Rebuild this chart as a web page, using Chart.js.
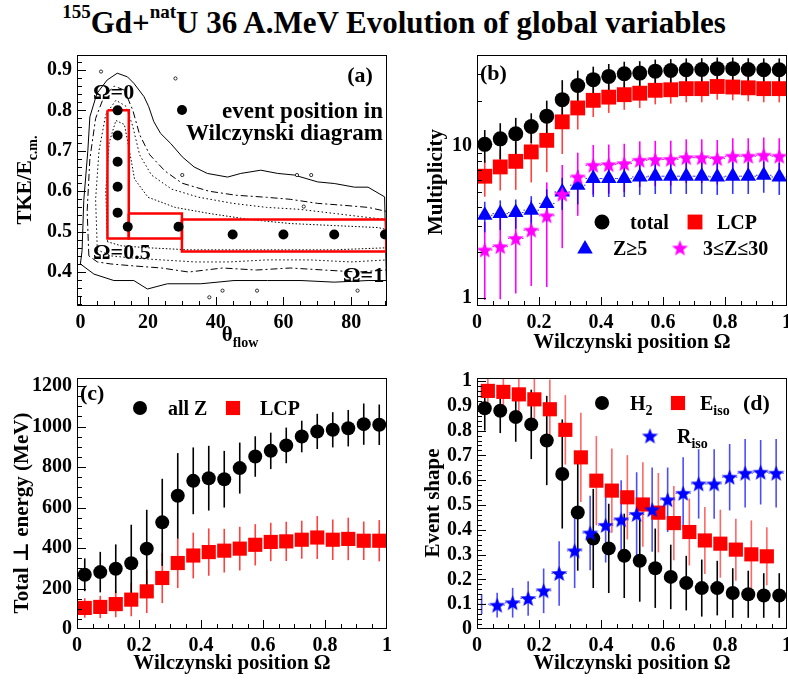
<!DOCTYPE html>
<html>
<head>
<meta charset="utf-8">
<script src="https://cdn.jsdelivr.net/npm/chart.js@4/dist/chart.umd.min.js"></script>
<style>
  html, body { margin: 0; padding: 0; background: #fff; }
  #page { position: relative; width: 788px; height: 680px; overflow: hidden; }
  #title { position: absolute; left: 0; top: 6px; width: 788px; text-align: center;
           font: bold 31px "Liberation Serif", serif; line-height: 34px; white-space: nowrap; }
  #title sup { font-size: 19px; vertical-align: 15px; line-height: 0; }
  .pane { position: absolute; }
</style>
</head>
<body>
<div id="page">
  <div id="title"><sup>155</sup>Gd+<sup>nat</sup>U 36 A.MeV Evolution of global variables</div>
  <div class="pane" style="left:0;top:45px;width:394px;height:310px"><canvas id="ca"></canvas></div>
  <div class="pane" style="left:394px;top:45px;width:394px;height:310px"><canvas id="cb"></canvas></div>
  <div class="pane" style="left:0;top:360px;width:394px;height:320px"><canvas id="cc"></canvas></div>
  <div class="pane" style="left:394px;top:360px;width:394px;height:320px"><canvas id="cd"></canvas></div>
</div>
<script>
// ---- data ----

// Wilczynski position bins (Omega)
const omega = [0.025, 0.075, 0.125, 0.175, 0.225, 0.275, 0.325, 0.375, 0.425, 0.475,
               0.525, 0.575, 0.625, 0.675, 0.725, 0.775, 0.825, 0.875, 0.925, 0.975];
const omegaEiso = [0.035, 0.085, 0.135, 0.185, 0.235, 0.285, 0.335, 0.385, 0.435, 0.485,
                   0.535, 0.585, 0.635, 0.685, 0.735, 0.785, 0.835, 0.885, 0.935];
const omegaRiso = [0.015, 0.065, 0.115, 0.165, 0.215, 0.265, 0.315, 0.365, 0.415, 0.465,
                   0.515, 0.565, 0.615, 0.665, 0.715, 0.765, 0.815, 0.865, 0.915, 0.965];

// (a) Wilczynski diagram: event positions, selection boxes, contours
const aTheta = [11, 11, 11, 11, 11, 14, 29, 45, 60, 75, 90];
const aTke   = [0.8, 0.738, 0.673, 0.611, 0.547, 0.512, 0.512, 0.493, 0.493, 0.493, 0.493];
const box1Theta = [8, 14.3, 14.3, 8, 8];
const box1Tke   = [0.8, 0.8, 0.483, 0.483, 0.8];
const box2Theta = [14.3, 30, 30, 14.3, 14.3];
const box2Tke   = [0.545, 0.545, 0.483, 0.483, 0.545];
const box3Theta = [30, 90.4, 90.4, 30, 30];
const box3Tke   = [0.53, 0.53, 0.451, 0.451, 0.53];
const cOuterTheta = [0, 0.5, 1, 2.2, 2.8, 4.9, 7.9, 10.9, 13.9, 15.8, 18.8, 20.2, 21.7, 23.7, 26.7, 30.1, 33.6, 37.5,
                     43.5, 47.4, 53.3, 58.3, 63.2, 70.1, 75.1, 81, 85, 89.9, 90.4, 85, 75, 65.2, 55.3, 45.4, 35.6,
                     25.7, 19.8, 15.8, 9.9, 4, 0];
const cOuterTke   = [0.42, 0.453, 0.577, 0.70, 0.784, 0.842, 0.875, 0.892, 0.883, 0.867, 0.834, 0.809, 0.772, 0.743,
                     0.718, 0.685, 0.66, 0.644, 0.635, 0.644, 0.652, 0.644, 0.64, 0.623, 0.619, 0.61, 0.61, 0.586,
                     0.379, 0.379, 0.375, 0.379, 0.379, 0.379, 0.371, 0.371, 0.358, 0.379, 0.379, 0.395, 0.42];
const cDashTheta = [2.5, 2, 2.8, 4.5, 7, 10, 13, 15.5, 17.5, 20.5, 25, 30, 38, 46, 55, 62, 70, 78, 85, 90.5,
                    90.5, 82, 72, 62, 52, 42, 32, 24, 16, 9, 5, 2.5];
const cDashTke   = [0.44, 0.55, 0.68, 0.78, 0.835, 0.86, 0.85, 0.8, 0.74, 0.69, 0.65, 0.62, 0.6, 0.59, 0.585, 0.58,
                    0.57, 0.565, 0.56, 0.55, 0.405, 0.4, 0.405, 0.41, 0.405, 0.41, 0.4, 0.41, 0.415, 0.42, 0.425, 0.44];
const cDot1Theta = [5, 4.5, 5.5, 7.5, 10.5, 13.5, 15.5, 17.5, 21, 27, 35, 45, 55, 65, 75, 85, 90.5,
                    90.5, 80, 68, 55, 44, 34, 24, 15, 9, 5];
const cDot1Tke   = [0.455, 0.58, 0.7, 0.79, 0.825, 0.81, 0.76, 0.69, 0.64, 0.605, 0.585, 0.57, 0.56, 0.555, 0.545,
                    0.535, 0.53, 0.43, 0.425, 0.43, 0.43, 0.425, 0.425, 0.43, 0.435, 0.44, 0.455];
const cDot2Theta = [8, 7.5, 8.5, 10.5, 13, 14.5, 16, 20, 28, 38, 50, 62, 75, 88, 90.5,
                    90.5, 75, 60, 45, 32, 20, 12, 8];
const cDot2Tke   = [0.475, 0.6, 0.72, 0.775, 0.765, 0.7, 0.63, 0.585, 0.56, 0.545, 0.53, 0.52, 0.515, 0.51, 0.505,
                    0.46, 0.455, 0.455, 0.455, 0.455, 0.46, 0.465, 0.475];
const strayTheta = [6.1, 28.1, 30.1, 64, 68.2, 42, 52.2, 81.9, 38.1, 66];
const strayTke   = [0.896, 0.879, 0.64, 0.64, 0.64, 0.354, 0.354, 0.354, 0.3375, 0.562];

// (b) multiplicities
const bTotal    = [10.3, 11.2, 12.1, 13.5, 15.8, 20.3, 25.2, 27.5, 28.9, 30.1, 30.4, 31.3, 31.6, 32.0, 32.1, 32.5, 32.5, 32.1, 32.0, 32.0];
const bTotalErr = [2.5, 3, 3.3, 3, 4.2, 7, 6.4, 6, 6, 6, 6, 6, 6, 6, 6, 6, 6, 6, 6, 6];
const bLcp      = [6.35, 7.31, 7.96, 9.18, 10.95, 14.5, 17.9, 20.1, 21.1, 21.9, 22.4, 23.4, 23.6, 24.0, 24.0, 24.8, 24.6, 24.3, 24.0, 24.0];
const bLcpErr   = [1.7, 2.2, 2.8, 3.4, 4.2, 5.6, 5, 4.5, 4.5, 4.5, 4.5, 4.5, 4.5, 4.5, 4.5, 4.5, 4.5, 4.5, 4.5, 4.5];
const bZ5       = [3.51, 3.60, 3.66, 3.79, 4.20, 5.0, 5.54, 6.13, 6.13, 6.13, 6.28, 6.35, 6.35, 6.35, 6.35, 6.28, 6.35, 6.35, 6.44, 6.28];
const bZ5Err    = [0.8, 0.8, 0.8, 0.9, 1.0, 1.2, 1.4, 1.5, 1.5, 1.5, 1.5, 1.5, 1.5, 1.5, 1.5, 1.5, 1.5, 1.5, 1.5, 1.5];
const bImf      = [2.07, 2.18, 2.47, 2.8, 3.48, 4.83, 6.28, 7.5, 7.57, 7.69, 8.09, 8.17, 8.2, 8.42, 8.42, 8.3, 8.6, 8.6, 8.73, 8.6];
const bImfErr   = [1.1, 1.2, 1.4, 1.6, 2.3, 2.7, 2.8, 2.7, 2.7, 2.7, 2.7, 2.7, 2.7, 2.7, 2.7, 2.7, 2.7, 2.7, 2.7, 2.7];

// (c) total transverse energy (MeV)
const cAllZ     = [268, 281, 298, 325, 397, 527, 658, 732, 745, 740, 795, 852, 880, 907, 951, 976, 984, 992, 1012, 1009];
const cAllZErr  = [81, 100, 120, 190, 192, 215, 211, 165, 160, 140, 126, 100, 90, 88, 78, 87, 87, 90, 102, 100];
const cLcp      = [104, 109, 123, 145, 186, 252, 326, 363, 380, 387, 397, 416, 430, 433, 441, 452, 441, 445, 436, 436];
const cLcpErr   = [48, 55, 65, 82, 107, 124, 124, 113, 117, 108, 108, 102, 95, 97, 94, 106, 100, 105, 95, 102];

// (d) event shape
const dH2       = [0.89, 0.88, 0.855, 0.825, 0.76, 0.625, 0.47, 0.365, 0.325, 0.295, 0.275, 0.245, 0.21, 0.185, 0.165, 0.165, 0.145, 0.14, 0.135, 0.135];
const dH2Err    = [0.09, 0.09, 0.1, 0.14, 0.18, 0.22, 0.235, 0.2, 0.18, 0.17, 0.165, 0.16, 0.13, 0.11, 0.115, 0.11, 0.1, 0.095, 0.09, 0.09];
const dEiso     = [0.96, 0.956, 0.946, 0.926, 0.886, 0.803, 0.692, 0.598, 0.558, 0.531, 0.502, 0.469, 0.427, 0.391, 0.357, 0.344, 0.32, 0.301, 0.293];
const dEisoErr  = [0.05, 0.06, 0.07, 0.09, 0.12, 0.14, 0.18, 0.18, 0.17, 0.17, 0.17, 0.16, 0.15, 0.135, 0.135, 0.137, 0.125, 0.137, 0.117];
const dRiso     = [0.1, 0.096, 0.106, 0.123, 0.154, 0.224, 0.315, 0.387, 0.418, 0.44, 0.462, 0.481, 0.521, 0.547, 0.585, 0.585, 0.612, 0.628, 0.632, 0.628];
const dRisoErr  = [0.04, 0.05, 0.06, 0.07, 0.09, 0.13, 0.15, 0.15, 0.15, 0.16, 0.17, 0.17, 0.13, 0.145, 0.14, 0.14, 0.134, 0.138, 0.13, 0.138];

// tick labels
const aXTicks = [0, 20, 40, 60, 80];
const aYTicks = [0.4, 0.5, 0.6, 0.7, 0.8, 0.9];
const omegaTicks = [0, 0.2, 0.4, 0.6, 0.8, 1];
const bYTicks = [1, 10];
const cYTicks = [0, 200, 400, 600, 800, 1000, 1200];
const dYTicks = [0, 0.1, 0.2, 0.3, 0.4, 0.5, 0.6, 0.7, 0.8, 0.9, 1];

// ---- drawing helpers ----
const SERIF = '"Liberation Serif", "DejaVu Serif", serif';
const RED = '#ff0000', BLUE = '#0000ff', MAGENTA = '#ff00ff';
const TITLE = 21;

function pts(xs, ys) { return xs.map((x, i) => ({ x, y: ys[i] })); }

function steps(lo, hi, step) {
  const out = [];
  for (let v = Math.ceil(lo / step - 1e-9) * step; v <= hi + 1e-9; v += step) out.push(+v.toFixed(6));
  return out;
}

function starImage(color, size) {
  const c = document.createElement('canvas');
  c.width = c.height = size;
  const g = c.getContext('2d');
  const R = size / 2, r = R * 0.42;
  g.beginPath();
  for (let i = 0; i < 10; i++) {
    const a = -Math.PI / 2 + i * Math.PI / 5;
    const rr = i % 2 ? r : R;
    g.lineTo(R + rr * Math.cos(a), R * 1.08 + rr * Math.sin(a));
  }
  g.closePath();
  g.fillStyle = color;
  g.fill();
  return c;
}
const starMagenta = starImage(MAGENTA, 17);
const starBlue = starImage(BLUE, 17);

// text with optional subscripts; (x, y) is the centre of the line
function drawRich(ctx, segs, x, y, size, align, rot) {
  ctx.save();
  ctx.translate(x, y);
  if (rot) ctx.rotate(rot);
  let total = 0;
  const parts = segs.map(s => {
    const fs = s.sub ? Math.round(size * 0.68) : size;
    ctx.font = `bold ${fs}px ${SERIF}`;
    const w = ctx.measureText(s.t).width;
    total += w;
    return { s, fs, w };
  });
  let cx = align === 'center' ? -total / 2 : align === 'right' ? -total : 0;
  ctx.fillStyle = '#000';
  ctx.textAlign = 'left';
  ctx.textBaseline = 'alphabetic';
  for (const p of parts) {
    ctx.font = `bold ${p.fs}px ${SERIF}`;
    ctx.fillText(p.s.t, cx, size * 0.33 + (p.s.sub ? size * 0.28 : 0));
    cx += p.w;
  }
  ctx.restore();
}

function drawMark(ctx, m) {
  if (m.mark === 'star') {
    const img = m.color === BLUE ? starBlue : starMagenta;
    ctx.drawImage(img, m.x - img.width / 2, m.y - img.height / 2);
    return;
  }
  ctx.save();
  ctx.fillStyle = m.color;
  ctx.strokeStyle = m.color;
  Chart.helpers.drawPoint(ctx, { pointStyle: m.mark, radius: m.r, rotation: 0, borderWidth: 0 }, m.x, m.y);
  ctx.restore();
}

// ROOT-like frame, inward ticks, error bars and annotations
const framePlugin = {
  id: 'frame',
  beforeDatasetsDraw(chart, args, opts) {
    const { ctx, chartArea: ca } = chart;
    const xs = chart.scales.x, ys = chart.scales.y;
    ctx.save();
    ctx.beginPath();
    ctx.rect(ca.left, ca.top, ca.right - ca.left, ca.bottom - ca.top);
    ctx.clip();
    chart.data.datasets.forEach(ds => {
      if (!ds.errY) return;
      ds.data.forEach((p, i) => {
        const px = xs.getPixelForValue(p.x);
        const e = ds.errY[i];
        let lo = p.y - e;
        if (ys.type === 'logarithmic' && lo <= 0) lo = ys.min;
        ctx.strokeStyle = ds.errColor;
        ctx.lineWidth = 1.6;
        ctx.setLineDash([]);
        ctx.beginPath();
        ctx.moveTo(px, ys.getPixelForValue(lo));
        ctx.lineTo(px, ys.getPixelForValue(p.y + e));
        ctx.stroke();
        if (ds.errX) {
          const py = ys.getPixelForValue(p.y);
          ctx.lineWidth = 1;
          ctx.setLineDash(ds.errXDash || []);
          ctx.beginPath();
          ctx.moveTo(xs.getPixelForValue(p.x - ds.errX), py);
          ctx.lineTo(xs.getPixelForValue(p.x + ds.errX), py);
          ctx.stroke();
        }
      });
    });
    ctx.restore();
  },
  afterDraw(chart, args, opts) {
    const { ctx, chartArea: ca } = chart;
    const xs = chart.scales.x, ys = chart.scales.y;
    ctx.save();
    ctx.strokeStyle = '#000';
    ctx.lineWidth = 1;
    ctx.setLineDash([]);
    ctx.strokeRect(Math.round(ca.left) + 0.5, Math.round(ca.top) + 0.5,
                   Math.round(ca.right - ca.left) - 1, Math.round(ca.bottom - ca.top) - 1);
    ctx.beginPath();
    const tick = (list, len, horiz) => list.forEach(v => {
      if (horiz) {
        const p = Math.round(xs.getPixelForValue(v)) + 0.5;
        if (p < ca.left || p > ca.right) return;
        ctx.moveTo(p, ca.bottom); ctx.lineTo(p, ca.bottom - len);
      } else {
        const p = Math.round(ys.getPixelForValue(v)) + 0.5;
        if (p < ca.top || p > ca.bottom) return;
        ctx.moveTo(ca.left, p); ctx.lineTo(ca.left + len, p);
      }
    });
    tick(opts.xMajor, 9, true);
    tick(opts.xMinor, 5, true);
    tick(opts.yMajor, 9, false);
    tick(opts.yMinor, 5, false);
    ctx.stroke();
    ctx.restore();
    (opts.marks || []).forEach(m => drawMark(ctx, m));
    (opts.notes || []).forEach(n => drawRich(ctx, n.segs, n.x, n.y, n.size, n.align || 'left', n.rot || 0));
  }
};

function axis(a, dir) {
  return {
    type: a.type || 'linear',
    min: a.min, max: a.max,
    grid: { display: false, drawTicks: false },
    border: { display: false },
    title: { display: false },
    ticks: {
      color: '#000', padding: a.pad, autoSkip: false, maxRotation: 0,
      font: { family: SERIF, weight: 'bold', size: 20 },
      callback: v => String(v)
    },
    afterBuildTicks: s => { s.ticks = a.ticks.map(v => ({ value: v })); },
    afterFit: s => {
      if (dir === 'x') s.height = a.size; else s.width = a.size;
      s.paddingLeft = s.paddingRight = s.paddingTop = s.paddingBottom = 0;
    }
  };
}

function makeChart(id, cfg) {
  return new Chart(document.getElementById(id), {
    type: 'scatter',
    data: { datasets: cfg.datasets },
    options: {
      responsive: true, maintainAspectRatio: false, animation: false, devicePixelRatio: 1,
      events: [],
      layout: { padding: cfg.pad, autoPadding: false },
      plugins: { legend: { display: false }, tooltip: { enabled: false }, frame: cfg.frame },
      scales: { x: axis(cfg.x, 'x'), y: axis(cfg.y, 'y') }
    },
    plugins: [framePlugin]
  });
}

function lineSet(xs, ys, color, width, dash) {
  return { data: pts(xs, ys), showLine: true, pointRadius: 0, borderColor: color,
           borderWidth: width, borderDash: dash || [], fill: false, tension: 0 };
}
function markSet(xs, ys, style, color, radius, err, errColor, extra) {
  return Object.assign({ data: pts(xs, ys), pointStyle: style, pointRadius: radius,
           backgroundColor: color, borderColor: color, borderWidth: 0,
           errY: err, errColor: errColor }, extra || {});
}

// ---- (a) ----
makeChart('ca', {
  pad: { top: 10, right: 7, left: 0, bottom: 0 },
  x: { min: -1, max: 90.6, ticks: aXTicks, size: 49, pad: 5 },
  y: { min: 0.316, max: 0.937, ticks: aYTicks, size: 77, pad: 5 },
  datasets: [
    markSet(aTheta, aTke, 'circle', '#000', 5),
    lineSet(box1Theta, box1Tke, RED, 2.5),
    lineSet(box2Theta, box2Tke, RED, 2.5),
    lineSet(box3Theta, box3Tke, RED, 2.5),
    Object.assign(markSet(strayTheta, strayTke, 'circle', '#fff', 1.6),
                  { borderColor: '#000', borderWidth: 0.8 }),
    lineSet(cDot2Theta, cDot2Tke, '#000', 1, [1.5, 2]),
    lineSet(cDot1Theta, cDot1Tke, '#000', 1, [1.5, 2.5]),
    lineSet(cDashTheta, cDashTke, '#000', 1, [7, 3, 2, 3]),
    lineSet(cOuterTheta, cOuterTke, '#000', 1)
  ],
  frame: {
    xMajor: aXTicks, xMinor: steps(0, 90, 5),
    yMajor: aYTicks, yMinor: steps(0.32, 0.93, 0.02),
    marks: [{ mark: 'circle', color: '#000', r: 5, x: 182, y: 65 }],
    notes: [
      { segs: [{ t: 'TKE/E' }, { t: 'c.m.', sub: true }], x: 24, y: 135, size: TITLE, align: 'center', rot: -Math.PI / 2 },
      { segs: [{ t: 'θ' }, { t: 'flow', sub: true }], x: 240, y: 289, size: TITLE, align: 'center' },
      { segs: [{ t: '(a)' }], x: 360, y: 30, size: 22, align: 'center' },
      { segs: [{ t: 'Ω=0' }], x: 93, y: 47, size: 22 },
      { segs: [{ t: 'Ω=0.5' }], x: 93, y: 207, size: 22 },
      { segs: [{ t: 'Ω=1' }], x: 343, y: 230, size: 22 },
      { segs: [{ t: 'event position in' }], x: 383, y: 65, size: 23, align: 'right' },
      { segs: [{ t: 'Wilczynski diagram' }], x: 383, y: 87, size: 23, align: 'right' }
    ]
  }
});

// ---- (b) ----
makeChart('cb', {
  pad: { top: 10, right: 1, left: 0, bottom: 0 },
  x: { min: 0, max: 1, ticks: omegaTicks, size: 49, pad: 5 },
  y: { type: 'logarithmic', min: 0.885, max: 40, ticks: bYTicks, size: 83, pad: 5 },
  datasets: [
    markSet(omega, bImf, starMagenta, MAGENTA, 8, bImfErr, MAGENTA, { errX: 0.025, errXDash: [1.5, 2] }),
    markSet(omega, bZ5, 'triangle', BLUE, 9, bZ5Err, 'rgba(0,0,255,0.8)', { errX: 0.025, errXDash: [1.5, 2] }),
    markSet(omega, bLcp, 'rect', RED, 10.5, bLcpErr, 'rgba(255,0,0,0.75)'),
    markSet(omega, bTotal, 'circle', '#000', 7.5, bTotalErr, '#000')
  ],
  frame: {
    xMajor: omegaTicks, xMinor: steps(0, 1, 0.05),
    yMajor: bYTicks, yMinor: [2, 3, 4, 5, 6, 7, 8, 9, 20, 30],
    marks: [
      { mark: 'circle', color: '#000', r: 7.5, x: 208, y: 177 },
      { mark: 'rect', color: RED, r: 10.5, x: 301, y: 177 },
      { mark: 'triangle', color: BLUE, r: 9, x: 191, y: 204 },
      { mark: 'star', color: MAGENTA, x: 286, y: 203 }
    ],
    notes: [
      { segs: [{ t: 'Multiplicity' }], x: 41, y: 137, size: TITLE, align: 'center', rot: -Math.PI / 2 },
      { segs: [{ t: 'Wilczynski position Ω' }], x: 238, y: 296, size: TITLE, align: 'center' },
      { segs: [{ t: '(b)' }], x: 86, y: 28, size: 22 },
      { segs: [{ t: 'total' }], x: 236, y: 177, size: 20 },
      { segs: [{ t: 'LCP' }], x: 323, y: 177, size: 20 },
      { segs: [{ t: 'Z≥5' }], x: 219, y: 203, size: 20 },
      { segs: [{ t: '3≤Z≤30' }], x: 309, y: 203, size: 20 }
    ]
  }
});

// ---- (c) ----
makeChart('cc', {
  pad: { top: 18, right: 7, left: 0, bottom: 0 },
  x: { min: 0, max: 1, ticks: omegaTicks, size: 51, pad: 5 },
  y: { min: 0, max: 1240, ticks: cYTicks, size: 77, pad: 5 },
  datasets: [
    markSet(omega, cLcp, 'rect', RED, 10, cLcpErr, 'rgba(255,0,0,0.75)'),
    markSet(omega, cAllZ, 'circle', '#000', 7, cAllZErr, '#000')
  ],
  frame: {
    xMajor: omegaTicks, xMinor: steps(0, 1, 0.05),
    yMajor: cYTicks, yMinor: steps(0, 1240, 50),
    marks: [
      { mark: 'circle', color: '#000', r: 7, x: 140, y: 48 },
      { mark: 'rect', color: RED, r: 10, x: 233, y: 48 }
    ],
    notes: [
      { segs: [{ t: 'Total ⊥ energy (MeV)' }], x: 21, y: 153, size: TITLE, align: 'center', rot: -Math.PI / 2 },
      { segs: [{ t: 'Wilczynski position Ω' }], x: 232, y: 302, size: TITLE, align: 'center' },
      { segs: [{ t: '(c)' }], x: 80, y: 33, size: 22 },
      { segs: [{ t: 'all Z' }], x: 168, y: 48, size: 20 },
      { segs: [{ t: 'LCP' }], x: 260, y: 48, size: 20 }
    ]
  }
});

// ---- (d) ----
makeChart('cd', {
  pad: { top: 18, right: 1, left: 0, bottom: 0 },
  x: { min: 0, max: 1, ticks: omegaTicks, size: 51, pad: 5 },
  y: { min: 0, max: 1.012, ticks: dYTicks, size: 83, pad: 5 },
  datasets: [
    markSet(omegaRiso, dRiso, starBlue, BLUE, ctx => (ctx.dataIndex === 0 ? 0 : 8), dRisoErr, 'rgba(0,0,255,0.7)',
            { errX: 0.025, errXDash: [1.5, 2] }),
    markSet(omegaEiso, dEiso, 'rect', RED, 10, dEisoErr, 'rgba(255,0,0,0.6)'),
    markSet(omega, dH2, 'circle', '#000', 7, dH2Err, '#000')
  ],
  frame: {
    xMajor: omegaTicks, xMinor: steps(0, 1, 0.05),
    yMajor: dYTicks, yMinor: steps(0, 1, 0.02),
    marks: [
      { mark: 'circle', color: '#000', r: 7, x: 208, y: 43 },
      { mark: 'rect', color: RED, r: 10, x: 284, y: 43 },
      { mark: 'star', color: BLUE, x: 256, y: 76 }
    ],
    notes: [
      { segs: [{ t: 'Event shape' }], x: 38, y: 143, size: TITLE, align: 'center', rot: -Math.PI / 2 },
      { segs: [{ t: 'Wilczynski position Ω' }], x: 238, y: 302, size: TITLE, align: 'center' },
      { segs: [{ t: '(d)' }], x: 349, y: 43, size: 22 },
      { segs: [{ t: 'H' }, { t: '2', sub: true }], x: 236, y: 43, size: 20 },
      { segs: [{ t: 'E' }, { t: 'iso', sub: true }], x: 306, y: 43, size: 20 },
      { segs: [{ t: 'R' }, { t: 'iso', sub: true }], x: 283, y: 76, size: 20 }
    ]
  }
});
</script>
</body>
</html>
